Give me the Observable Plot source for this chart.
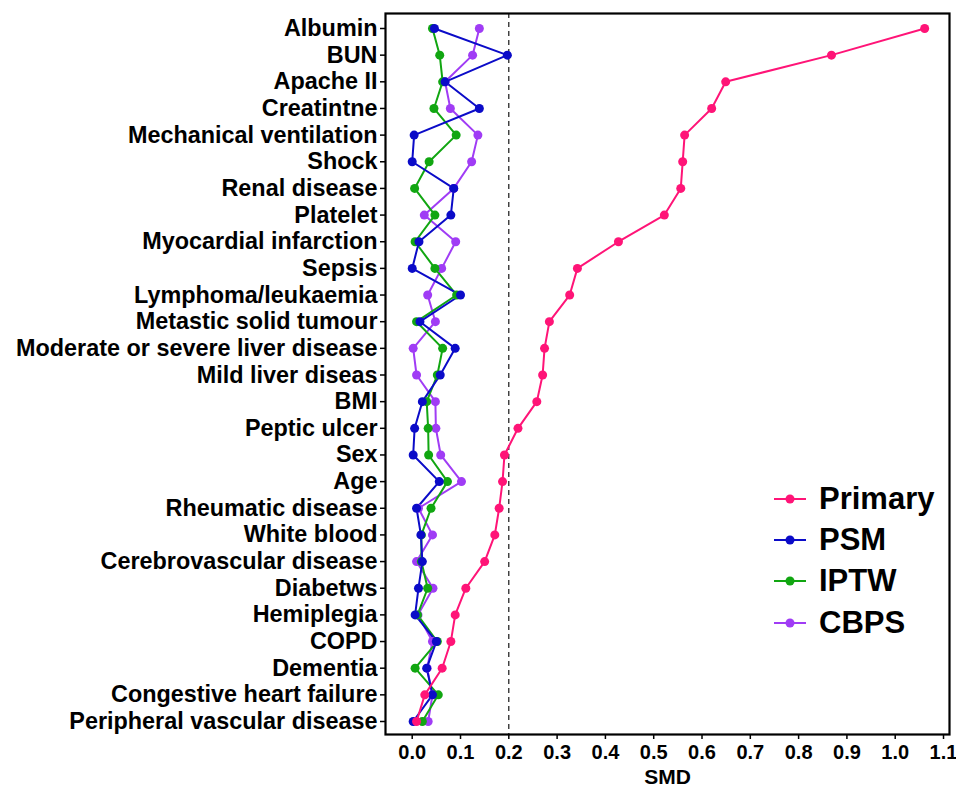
<!DOCTYPE html>
<html>
<head>
<meta charset="utf-8">
<script src="https://cdn.jsdelivr.net/npm/d3@7"></script>
<script src="https://cdn.jsdelivr.net/npm/@observablehq/plot@0.6"></script>
<style>
  html, body { margin: 0; padding: 0; background: #fff; }
  #wrap { position: relative; width: 956px; height: 791px; font-family: "Liberation Sans", Arial, sans-serif; }
  #legend { position: absolute; left: 773px; top: 478px; }
  .item { display: flex; align-items: center; height: 41.4px; font-weight: bold; font-size: 31px; color: #000; }
  .item svg { margin-right: 12px; }
</style>
</head>
<body>
<div id="wrap"></div>
<script>
const variables = [
  "Albumin", "BUN", "Apache II", "Creatintne", "Mechanical ventilation", "Shock",
  "Renal disease", "Platelet", "Myocardial infarction", "Sepsis", "Lymphoma/leukaemia",
  "Metastic solid tumour", "Moderate or severe liver disease", "Mild liver diseas", "BMI",
  "Peptic ulcer", "Sex", "Age", "Rheumatic disease", "White blood", "Cerebrovascular disease",
  "Diabetws", "Hemiplegia", "COPD", "Dementia", "Congestive heart failure", "Peripheral vascular disease"
];
const methods = ["Primary", "PSM", "IPTW", "CBPS"];
const colors = ["#FF1477", "#0B0BC8", "#11A611", "#A03CF5"];

const primary = [1.061, 0.868, 0.649, 0.620, 0.564, 0.560, 0.556, 0.522, 0.427, 0.342, 0.326,
  0.284, 0.274, 0.270, 0.258, 0.219, 0.191, 0.187, 0.180, 0.171, 0.150, 0.111, 0.089, 0.080, 0.062, 0.026, 0.009];
const psm = [0.046, 0.197, 0.068, 0.139, 0.004, 0.000, 0.086, 0.080, 0.014, 0.000, 0.100,
  0.016, 0.089, 0.058, 0.021, 0.005, 0.002, 0.056, 0.009, 0.018, 0.021, 0.013, 0.006, 0.050, 0.030, 0.042, 0.002];
const iptw = [0.042, 0.057, 0.063, 0.045, 0.091, 0.035, 0.005, 0.047, 0.006, 0.047, 0.092,
  0.009, 0.063, 0.052, 0.030, 0.033, 0.034, 0.073, 0.039, 0.019, 0.019, 0.032, 0.011, 0.052, 0.006, 0.054, 0.021];
const cbps = [0.139, 0.125, 0.068, 0.079, 0.136, 0.123, 0.086, 0.025, 0.090, 0.061, 0.032,
  0.048, 0.002, 0.009, 0.048, 0.049, 0.059, 0.102, 0.013, 0.042, 0.009, 0.043, 0.012, 0.042, 0.031, 0.042, 0.033];
const xTicks = [0, 0.1, 0.2, 0.3, 0.4, 0.5, 0.6, 0.7, 0.8, 0.9, 1.0, 1.1];
const threshold = 0.2;

const series = [primary, psm, iptw, cbps];
const data = [];
methods.forEach((m, i) => variables.forEach((v, j) => data.push({method: m, variable: v, smd: series[i][j]})));
const drawOrder = ["CBPS", "IPTW", "PSM", "Primary"];

const chart = Plot.plot({
  width: 956,
  height: 791,
  marginLeft: 385,
  marginRight: 7,
  marginTop: 13,
  marginBottom: 57,
  style: {fontFamily: "'Liberation Sans', Arial, sans-serif", fontWeight: "bold", color: "#000", background: "#fff"},
  x: {domain: [-0.0553, 1.1124], ticks: xTicks, tickFormat: d3.format(".1f"), label: null},
  y: {type: "point", domain: variables, range: [28, 721], padding: 0, round: false, label: null},
  color: {domain: methods, range: colors},
  marks: [
    Plot.ruleX([threshold], {stroke: "#000", strokeWidth: 1.1, strokeDasharray: "5,4"}),
    ...drawOrder.map(m => Plot.line(data.filter(d => d.method === m), {x: "smd", y: "variable", stroke: colors[methods.indexOf(m)], strokeWidth: 2})),
    ...drawOrder.map(m => Plot.dot(data.filter(d => d.method === m), {x: "smd", y: "variable", fill: colors[methods.indexOf(m)], r: 4.5})),
    Plot.frame({stroke: "#000", strokeWidth: 2.2}),
    Plot.axisX({ticks: xTicks, tickFormat: d3.format(".1f"), tickSize: 5, tickPadding: 5, fontSize: 20, stroke: "#000", strokeWidth: 1.5, label: null}),
    Plot.axisY({tickSize: 5, tickPadding: 3, fontSize: 23.4, stroke: "#000", strokeWidth: 1.5, label: null}),
    Plot.text(["SMD"], {frameAnchor: "bottom", dy: 49, fontSize: 21, fontWeight: "bold", fill: "#000"})
  ]
});

const wrap = document.getElementById("wrap");
wrap.appendChild(chart);

const legend = document.createElement("div");
legend.id = "legend";
methods.forEach((m, i) => {
  const item = document.createElement("div");
  item.className = "item";
  item.innerHTML = `<svg width="34" height="12"><line x1="1" y1="6" x2="33" y2="6" stroke="${colors[i]}" stroke-width="2"/><circle cx="17" cy="6" r="4.5" fill="${colors[i]}"/></svg><span>${m}</span>`;
  legend.appendChild(item);
});
wrap.appendChild(legend);
</script>
</body>
</html>
